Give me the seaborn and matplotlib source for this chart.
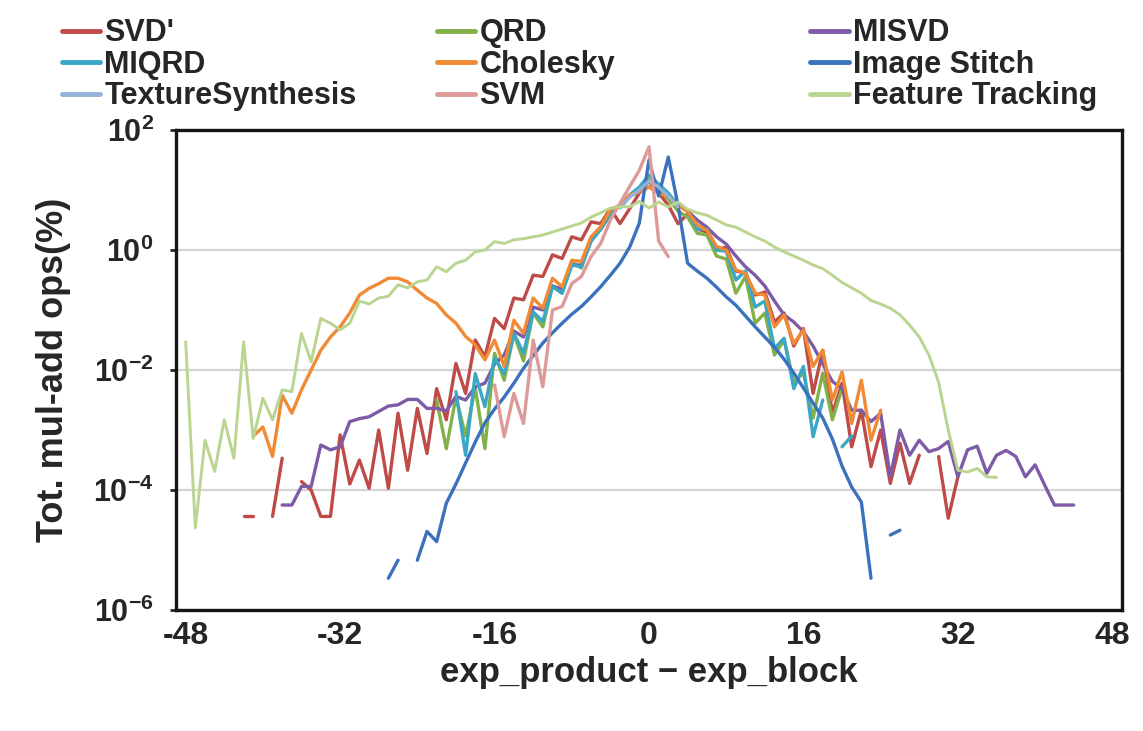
import numpy as np
import pandas as pd
import matplotlib
matplotlib.use('Agg')
import matplotlib.pyplot as plt
import seaborn as sns
from matplotlib.lines import Line2D
from matplotlib.ticker import FixedLocator, NullLocator

nan = np.nan

# log10 of "Tot. mul-add ops (%)" at integer x, nan = gap (zero on log axis)
svd_x0 = -42
svd = [-4.44, -4.44, nan, -4.44, -3.47, nan, -3.86, -4.0, -4.44, -4.44,
       -3.08, -3.9, -3.5, -3.97, -3.0, -3.97, -2.72, -3.67, -2.64, -3.39,
       -2.31, -2.83, -1.89, -2.39, -1.5, -1.78, -1.14, -1.31, -0.8, -0.83,
       -0.42, -0.44, -0.08, -0.14, 0.22, 0.17, 0.47, 0.44, 0.69, 0.44,
       0.69, 0.95, 1.15, 0.95, 0.75, 0.44, 0.6, 0.35, 0.3, 0.0,
       0.05, -0.35, -0.38, -0.75, -0.7, -1.2, -1.05, -1.6, -1.31, -2.39,
       -1.67, -2.72, -2.22, -3.28, -2.67, -3.61, -3.0, -3.89, -3.22, -3.89,
       -3.42, nan, -3.44, -4.47, -3.78]

qrd_x0 = -22
qrd = [-2.5, -3.31, -2.45, -3.1, -2.3, -3.31, -1.72, -2.17, -1.4, -1.85,
       -1.05, -1.28, -0.6, -0.72, -0.2, -0.3, 0.2, 0.35, 0.6, 0.75,
       0.9, 1.0, 1.2, 1.0, 0.85, 0.65, 0.55, 0.28, 0.25, -0.1,
       -0.15, -0.72, -0.44, -1.22, -1.05, -1.75, -1.5, -2.2, -2.05, -2.8,
       -2.05, -2.83, -2.3]

misvd_x0 = -38
misvd = [-4.25, -4.25, -3.94, -3.94, -3.25, -3.33, -3.28, -2.86, -2.81, -2.78,
         -2.69, -2.6, -2.58, -2.49, -2.49, -2.64, -2.64, -2.68, -2.44, -2.5,
         -2.28, -2.22, -1.9, -1.75, -1.35, -1.45, -0.95, -1.0, -0.6, -0.65,
         -0.25, -0.25, 0.15, 0.35, 0.6, 0.75, 0.9, 0.97, 1.05, 1.0,
         0.9, 0.78, 0.65, 0.5, 0.38, 0.22, 0.1, -0.1, -0.28, -0.42,
         -0.6, -0.85, -1.08, -1.2, -1.36, -1.6, -1.9, -2.19, -2.31, -2.67,
         -2.67, -2.86, -2.72, -3.78, -3.0, -3.42, -3.17, -3.36, -3.31, -3.19,
         -3.78, -3.33, -3.27, -3.72, -3.42, -3.34, -3.44, -3.78, -3.58, -3.92,
         -4.25, -4.25, -4.25]

miqrd_x0 = -20
miqrd = [-2.36, -3.42, -2.06, -2.61, -1.8, -2.06, -1.39, -1.72, -1.03, -1.19,
         -0.61, -0.72, -0.25, -0.28, 0.15, 0.35, 0.6, 0.75, 0.92, 1.05,
         1.25, 1.1, 0.95, 0.75, 0.65, 0.35, 0.35, 0.0, -0.02, -0.5,
         -0.35, -0.95, -0.85, -1.64, -1.47, -2.31, -1.94, -3.11, -2.5, nan,
         -3.28, -3.1]

chol_x0 = -41
chol = [-3.1, -2.95, -3.44, -2.42, -2.72, -2.33, -2.0, -1.67, -1.45, -1.28,
        -1.05, -0.75, -0.64, -0.56, -0.47, -0.47, -0.53, -0.67, -0.8, -0.89,
        -1.08, -1.22, -1.44, -1.58, -1.83, -1.5, -1.94, -1.17, -1.39, -0.8,
        -0.97, -0.47, -0.61, -0.17, -0.19, 0.22, 0.39, 0.67, 0.75, 0.92,
        0.97, 1.05, 0.95, 0.89, 0.75, 0.64, 0.42, 0.33, 0.06, 0.0,
        -0.33, -0.39, -0.72, -0.75, -1.28, -1.08, -1.56, -1.33, -1.94, -1.67,
        -2.5, -2.03, -2.89, -2.17, -3.17, -2.67]

stitch_x0 = -27
stitch = [-5.47, -5.17, nan, -5.17, -4.69, -4.86, -4.22, -3.9, -3.55, -3.2,
          -2.88, -2.65, -2.45, -2.22, -1.97, -1.76, -1.55, -1.38, -1.22, -1.07,
          -0.94, -0.78, -0.61, -0.42, -0.22, 0.05, 0.45, 1.5, 0.9, 1.55,
          0.75, -0.22, -0.35, -0.47, -0.62, -0.78, -0.92, -1.1, -1.28, -1.45,
          -1.62, -1.82, -2.05, -2.3, -2.55, -2.8, -3.15, -3.6, -3.95, -4.2,
          -5.47, nan, -4.75, -4.67]

texture_x0 = -3
texture = [0.7, 0.88, 1.0, 1.15, 1.05, 0.9, 0.72]

svm_x0 = -16
svm = [-2.25, -3.11, -2.39, -2.89, -1.5, -2.28, -1.0, -0.94, -0.56, -0.44,
       -0.11, 0.11, 0.5, 0.78, 1.06, 1.33, 1.72, 0.15, -0.11]

ft_x0 = -48
ft = [-1.53, -4.63, -3.17, -3.69, -2.83, -3.47, -1.53, -3.14, -2.47, -2.83,
      -2.33, -2.36, -1.39, -1.86, -1.14, -1.22, -1.33, -1.22, -0.85, -0.9,
      -0.8, -0.77, -0.58, -0.63, -0.53, -0.5, -0.28, -0.36, -0.22, -0.17,
      -0.03, 0.0, 0.14, 0.11, 0.17, 0.19, 0.22, 0.25, 0.3, 0.35,
      0.4, 0.45, 0.55, 0.62, 0.7, 0.72, 0.72, 0.81, 0.7, 0.8,
      0.72, 0.8, 0.68, 0.62, 0.58, 0.5, 0.42, 0.38, 0.3, 0.22,
      0.15, 0.05, -0.03, -0.1, -0.17, -0.25, -0.31, -0.42, -0.54, -0.63,
      -0.72, -0.84, -0.9, -0.97, -1.08, -1.25, -1.45, -1.75, -2.2, -3.0,
      -3.67, -3.7, -3.64, -3.78, -3.79]

names = ["SVD'", "QRD", "MISVD", "MIQRD", "Cholesky", "Image Stitch",
         "TextureSynthesis", "SVM", "Feature Tracking"]
colors = ['#BE4B48', '#84B04A', '#7D5BA6', '#3AA8C5', '#F08A35', '#3C72BD',
          '#95B3D7', '#DC9A98', '#B9D590']
series = [(svd_x0, svd), (qrd_x0, qrd), (misvd_x0, misvd), (miqrd_x0, miqrd),
          (chol_x0, chol), (stitch_x0, stitch), (texture_x0, texture),
          (svm_x0, svm), (ft_x0, ft)]

frames = []
for name, (x0, vals) in zip(names, series):
    v = np.array(vals, dtype=float)
    x = np.arange(x0, x0 + len(v))
    seg = np.cumsum(np.isnan(v))
    d = pd.DataFrame({'x': x, 'pct': 10 ** v, 'series': name,
                      'seg': [f'{name}-{s}' for s in seg]})
    frames.append(d[~np.isnan(v)])
df = pd.concat(frames, ignore_index=True)

palette = dict(zip(names, colors))
widths = {n: 2.4 for n in names}
widths['Feature Tracking'] = 2.1

sns.set_style('white')
plt.rcParams['font.family'] = ['Liberation Sans', 'DejaVu Sans']
plt.rcParams['font.weight'] = 'bold'
plt.rcParams['mathtext.fontset'] = 'custom'
plt.rcParams['mathtext.bf'] = 'Liberation Sans:bold'
plt.rcParams['mathtext.rm'] = 'Liberation Sans:bold'
plt.rcParams['axes.unicode_minus'] = False

fig = plt.figure(figsize=(11.43, 7.31), dpi=100)
ax = fig.add_axes([0.154, 0.1655, 0.8276, 0.6566])

sns.lineplot(data=df, x='x', y='pct', hue='series', units='seg', estimator=None,
             hue_order=names, palette=palette, size='series', sizes=widths,
             size_order=names, legend=False, ax=ax)

ax.set_yscale('log')
ax.set_ylim(1e-6, 1e2)
ax.set_xlim(-49, 49)
ax.yaxis.set_major_locator(FixedLocator([1e-6, 1e-4, 1e-2, 1, 1e2]))
ax.yaxis.set_minor_locator(NullLocator())
ax.set_yticklabels([r'$\mathbf{10^{-6}}$', r'$\mathbf{10^{-4}}$', r'$\mathbf{10^{-2}}$',
                    r'$\mathbf{10^{0}}$', r'$\mathbf{10^{2}}$'])
xticks = [-48, -32, -16, 0, 16, 32, 48]
ax.set_xticks(xticks)
ax.set_xticklabels([str(t) for t in xticks])

ax.grid(axis='y', color='#D4D4D4', linewidth=1.6)
ax.grid(axis='x', visible=False)
ax.set_axisbelow(True)
for sp in ax.spines.values():
    sp.set_linewidth(2.4)
    sp.set_color('#151515')
ax.tick_params(axis='y', left=True, length=4, width=2, pad=12, labelsize=22, direction='out')
ax.tick_params(axis='x', length=0, pad=8, labelsize=23)

ax.set_xlabel('exp_product \u2212 exp_block', fontsize=25, fontweight='bold', va='center')
ax.xaxis.set_label_coords(0.5, -0.13)
ax.set_ylabel('Tot. mul-add ops(%)', fontsize=26, fontweight='bold', va='center')
ax.yaxis.set_label_coords(-0.129, 0.5)

# legend: three columns placed like the reference
cols = [["SVD'", "MIQRD", "TextureSynthesis"],
        ["QRD", "Cholesky", "SVM"],
        ["MISVD", "Image Stitch", "Feature Tracking"]]
col_x = [0.054, 0.382, 0.709]
for names_col, cx in zip(cols, col_x):
    handles = [Line2D([], [], color=palette[n], linewidth=3.5) for n in names_col]
    fig.legend(handles, names_col, loc='upper left', bbox_to_anchor=(cx, 0.975),
               frameon=False, borderpad=0, borderaxespad=0, handlelength=1.25,
               handletextpad=0.15, labelspacing=0.05,
               prop={'family': 'Liberation Sans', 'weight': 'bold', 'size': 22})

fig.savefig('out.png', dpi=100)
